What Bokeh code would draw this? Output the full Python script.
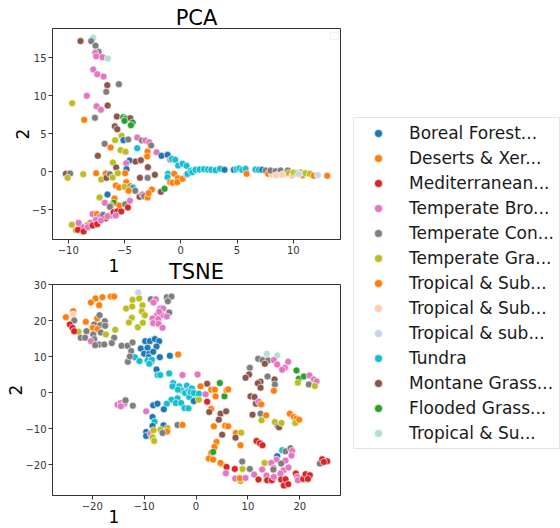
from bokeh.plotting import figure
from bokeh.layouts import row, column
from bokeh.models import (ColumnDataSource, Range1d, FixedTicker, CustomJSTickFormatter,
                          Legend, LegendItem, BoxAnnotation, Title)
from bokeh.core.properties import value
from bokeh.embed import file_html
from bokeh.resources import INLINE

# ---------------- data ----------------
categories = ["Boreal Forest...", "Deserts & Xer...", "Mediterranean...", "Temperate Bro...",
              "Temperate Con...", "Temperate Gra...", "Tropical & Sub...", "Tropical & Sub...",
              "Tropical & sub...", "Tundra", "Montane Grass...", "Flooded Grass...", "Tropical & Su..."]
palette = ["#1f77b4", "#ff7f0e", "#d62728", "#e377c2", "#7f7f7f", "#bcbd22", "#ff7f0e",
           "#ffcdb2", "#c8d4ea", "#17becf", "#8c564b", "#2ca02c", "#b2e2cd"]

pca_x = [-7.78, -8.91, -7.96, -7.57, -7.31, -7.60, -7.51, -6.95, -6.48, -7.78,
         -7.42, -6.86, -6.53, -5.50, -6.62, -8.35, -9.65, -7.48, -6.50, -7.10,
         -8.58, -7.63, -5.68, -5.11, -4.90, -4.49, -5.00, -4.28, -4.43, -5.86,
         -5.64, -5.83, -5.26, -5.09, -4.67, -3.87, -3.45, -3.16, -2.80, -2.63,
         -6.77, -6.24, -5.35, -4.91, -3.87, -2.95, -2.98, -7.37, -2.15, -1.71,
         -1.17, -0.94, -0.79, -0.49, -0.23, 0.16, 0.52, -4.55, -4.02, -3.55,
         -4.85, -6.03, -2.92, -5.74, -4.82, -10.21, -9.83, -10.06, -8.67, -7.52,
         -6.66, -7.07, -6.60, -6.30, -6.06, -4.94, -5.59, -3.63, -2.95, -2.30,
         -1.14, -1.17, -0.58, -0.26, -0.94, -0.73, -0.32, 0.16, 0.52, 0.60,
         0.90, 1.26, 1.67, -4.85, -5.77, -5.47, -5.00, -4.49, -4.26, -4.05,
         -4.64, -6.51, -7.22, -6.75, -5.89, -5.95, -6.21, -6.30, -5.47, -4.94,
         -4.52, -4.70, -3.66, -3.40, -3.25, -2.95, -2.57, -2.86, -1.77, -1.44,
         -7.84, -7.46, -7.19, -6.90, -6.66, -6.18, -5.97, -5.65, -5.29, -5.77,
         -7.54, -8.05, -8.31, -8.73, -9.08, -9.68, -9.32, -9.14, -8.64, -8.26,
         -7.84, -7.43, -7.10, -6.51, 1.02, 1.31, 1.67, 2.06, 2.41, 2.71,
         3.09, 3.48, 3.89, 4.72, 4.96, 5.20, 5.46, 5.76, 5.85, 6.65,
         6.94, 7.24, 7.54, 7.77, 8.13, 7.98, 8.43, 8.72, 8.87, 8.49,
         9.17, 9.52, 9.61, 9.91, 10.06, 10.35, 10.65, 10.83, 11.09, 11.48,
         11.83, 12.19, 13.02, 10.50, 9.00]
pca_y = [17.63, 17.20, 17.20, 16.60, 15.80, 15.66, 15.20, 15.08, 14.90, 13.46,
         12.84, 12.54, 11.40, 11.53, 10.53, 10.00, 9.03, 8.63, 8.72, 8.16,
         6.84, 7.10, 7.28, 7.18, 7.01, 7.05, 6.71, 6.49, 6.13, 6.00,
         5.60, 4.16, 4.73, 4.16, 4.25, 4.51, 4.12, 4.12, 3.90, 3.46,
         3.68, 3.20, 2.85, 2.63, 3.11, 2.67, 2.01, 2.10, 2.58, 2.10,
         2.23, 1.57, 1.71, 1.57, 0.83, 1.05, 0.78, 1.49, 1.35, 1.53,
         1.13, 1.22, 0.61, 0.57, 0.35, -0.27, -0.22, -0.79, -0.31, -0.18,
         -0.22, -1.01, -0.79, -0.31, -0.75, -0.18, -0.18, -0.79, -0.79, -0.40,
         -0.27, -0.71, -0.27, -0.84, -1.36, -1.45, -1.36, -0.93, -0.40, -0.27,
         0.17, 0.21, 0.35, -1.36, -1.80, -2.07, -1.98, -1.89, -2.07, -2.50,
         -2.50, -2.99, -3.38, -4.08, -3.51, -4.08, -4.43, -4.61, -4.43, -4.26,
         -3.82, -4.70, -3.29, -2.99, -3.21, -3.38, -2.33, -2.81, -2.64, -2.24,
         -5.57, -5.57, -5.92, -5.66, -6.10, -5.75, -5.31, -5.22, -5.22, -5.75,
         -6.32, -6.72, -7.07, -7.29, -6.72, -6.98, -7.68, -7.64, -7.86, -7.29,
         -7.07, -6.89, -6.41, -5.84, -0.05, 0.26, 0.30, 0.35, 0.30, 0.26,
         0.21, 0.39, 0.26, 0.26, 0.35, 0.43, 0.26, 0.39, -0.27, 0.30,
         0.26, 0.26, 0.17, -0.27, -0.36, 0.17, 0.08, -0.36, 0.17, -0.44,
         -0.27, 0.17, -0.18, -0.53, -0.09, -0.18, -0.09, -0.44, -0.18, -0.27,
         -0.53, -0.44, -0.53, -0.30, -0.40]
pca_c = [12, 10, 4, 4, 4, 3, 3, 3, 12, 3,
         3, 3, 10, 4, 4, 3, 5, 3, 10, 3,
         1, 4, 10, 11, 11, 10, 11, 11, 11, 10,
         10, 5, 5, 0, 4, 3, 4, 3, 3, 4,
         4, 1, 5, 5, 9, 1, 6, 10, 3, 0,
         0, 3, 9, 9, 9, 9, 9, 0, 10, 10,
         3, 5, 10, 10, 0, 10, 4, 5, 5, 1,
         6, 5, 10, 4, 5, 1, 5, 10, 4, 10,
         9, 9, 1, 1, 1, 6, 1, 1, 3, 9,
         9, 9, 9, 1, 1, 6, 5, 1, 9, 4,
         1, 0, 5, 3, 1, 11, 1, 4, 6, 4,
         3, 2, 10, 3, 4, 1, 1, 1, 10, 11,
         3, 1, 3, 4, 2, 3, 2, 2, 2, 3,
         3, 3, 1, 3, 3, 5, 5, 2, 2, 3,
         2, 2, 3, 3, 9, 9, 9, 9, 9, 9,
         9, 9, 0, 0, 9, 9, 9, 9, 1, 9,
         9, 0, 4, 1, 7, 4, 4, 4, 4, 7,
         5, 4, 5, 7, 5, 5, 5, 1, 5, 5,
         6, 8, 1, 8, 7]

tsne_x = [-11.14, -12.23, -10.95, -13.46, -12.30, -10.31, -10.44, -9.86, -12.36, -12.94,
          -11.21, -10.24, -8.70, -7.74, -5.62, -4.72, -5.43, -8.19, -6.90, -6.33,
          -5.17, -7.55, -6.58, -5.62, -8.38, -7.29, -8.25, -7.23, -6.45, -7.10,
          -19.36, -18.02, -16.41, -15.77, -20.26, -18.66, -23.67, -23.67, -25.08, -23.47,
          -21.23, -19.04, -18.59, -17.57, -19.62, -18.47, -19.88, -18.98, -17.50, -15.57,
          -22.64, -21.10, -19.81, -18.34, -17.37, -15.77, -22.19, -21.35, -19.62, -20.26,
          -18.66, -19.43, -17.69, -16.22, -24.31, -23.80, -23.47, -14.35, -13.20, -12.23,
          -9.79, -8.90, -7.93, -7.10, -10.63, -9.34, -7.61, -9.99, -9.02, -8.25,
          -6.97, -9.15, -8.64, -7.61, -5.04, -3.44, -11.78, -10.89, -9.34, -8.51,
          -9.02, -12.49, -13.13, -12.75, -7.40, -6.90, -5.17, -2.60, 0.30, -4.40,
          -4.53, -3.24, -1.77, -2.86, -2.09, -1.32, -0.80, -0.16, -1.32, -0.48,
          -4.72, -3.56, -5.62, -3.88, -2.86, -2.22, -1.45, -8.25, -7.42, -6.20,
          -15.12, -14.48, -13.78, -14.48, -13.58, -12.17, -9.60, -8.38, -7.99, -8.38,
          -6.26, -3.56, -2.60, -6.84, -5.49, -5.56, -6.45, -9.60, -9.60, -8.77,
          -8.19, -8.38, -8.06, -3.50, -1.00, 0.30, 13.65, 15.64, 11.98, 12.81,
          13.90, 13.26, 14.99, 15.64, 17.76, 17.12, 16.60, 10.37, 10.24, 9.54,
          13.78, 19.36, 19.81, 20.78, 21.87, 22.70, 23.22, 19.62, 21.74, 22.90,
          12.43, 11.91, 15.13, 15.19, 2.15, 4.59, 0.87, 12.43, 15.00, -0.42,
          0.55, 1.83, -0.42, 0.55, 2.92, 3.63, 3.76, 2.15, 5.49, 5.88,
          6.20, 2.92, 2.54, 4.72, 5.81, 4.40, 3.44, 5.62, 6.20, 5.04,
          7.67, 8.70, 7.61, 3.95, 3.56, 2.92, 3.31, 2.47, 3.31, 8.57,
          4.98, 4.72, 10.50, 11.27, 11.53, 12.11, 12.56, 10.89, 12.43, 13.52,
          12.62, 15.19, 15.77, 16.02, 16.47, 18.08, 18.85, 19.36, 19.11, 19.88,
          11.66, 12.30, 12.81, 16.60, 17.24, 18.21, 18.53, 18.40, 15.64, 15.51,
          17.24, 16.41, 13.20, 8.90, 14.48, 14.99, 14.90, 16.86, 17.82, 16.28,
          5.88, 7.48, 8.96, 10.37, 12.75, 5.75, 7.55, 8.57, 8.45, 9.54,
          11.21, 12.04, 13.58, 13.71, 14.61, 14.99, 16.41, 17.24, 16.92, 17.76,
          19.23, 19.49, 19.62, 20.65, 21.10, 21.93, 21.55, 23.86, 24.31, 25.27,
          24.63]
tsne_y = [27.86, 25.83, 26.20, 23.43, 23.98, 24.35, 22.69, 21.58, 20.84, 19.55,
          18.25, 19.45, 26.02, 26.02, 26.57, 26.76, 25.46, 25.09, 23.43, 23.43,
          22.32, 21.58, 21.58, 21.21, 20.66, 20.47, 19.36, 19.18, 18.07, 22.50,
          26.20, 26.57, 26.76, 26.76, 25.09, 24.35, 22.69, 21.77, 21.03, 20.10,
          19.73, 20.66, 21.58, 19.92, 18.99, 18.81, 18.07, 17.70, 18.62, 17.51,
          16.96, 17.14, 16.22, 16.77, 16.22, 15.30, 15.30, 15.30, 14.93, 14.37,
          13.45, 13.26, 13.45, 13.82, 18.99, 18.07, 17.14, 13.08, 13.08, 14.00,
          14.37, 14.37, 14.93, 14.37, 12.34, 12.52, 12.89, 10.86, 10.86, 11.41,
          9.93, 9.93, 8.64, 6.51, 10.30, 10.67, 9.93, 8.83, 9.01, 9.20,
          8.09, 11.60, 8.64, 10.10, 4.94, 4.94, 5.41, 4.94, 5.13, 2.73,
          1.81, 1.81, 1.99, 0.70, -0.04, 0.70, 1.25, -0.23, -1.15, -2.35,
          -1.89, -1.52, -3.00, -2.81, -2.81, -4.20, -4.29, -3.46, -3.00, -4.57,
          -3.28, -2.81, -3.00, -3.74, -2.08, -3.55, -5.13, -6.70, -7.99, -9.19,
          -9.01, -8.91, -8.91, -10.21, -9.75, -10.76, -11.13, -10.86, -11.96, -11.32,
          -10.39, -12.33, -13.35, 0.90, 0.20, -0.90, 10.86, 10.40, 9.47, 9.10,
          9.01, 8.09, 9.10, 7.90, 8.64, 6.98, 6.42, 6.98, 5.13, 4.20,
          4.57, 6.24, 3.93, 4.57, 4.85, 3.74, 3.19, 2.82, 2.36, 1.90,
          3.10, 2.64, 3.74, 2.36, 2.54, 2.73, 1.81, 1.44, 0.60, -0.04,
          -0.23, -0.41, -2.26, -1.89, 0.88, 0.88, -0.97, -2.45, -0.97, 0.70,
          0.97, -4.48, -5.31, -5.77, -5.13, -7.44, -9.28, -9.10, -9.28, -11.60,
          -11.13, -11.04, -12.43, -13.63, -15.01, -16.68, -16.40, -18.25, -18.53, -14.55,
          -19.73, -19.45, -0.97, -1.15, -3.00, -2.45, -3.18, -6.05, -5.77, -6.24,
          -7.62, -8.08, -9.28, -9.56, -8.36, -5.77, -6.70, -7.16, -8.36, -7.44,
          -13.35, -13.99, -14.55, -15.94, -16.22, -15.38, -16.12, -17.42, -17.60, -18.53,
          -18.80, -19.64, -19.45, -19.08, -19.45, -20.84, -21.30, -21.49, -20.75, -22.41,
          -20.56, -21.11, -21.11, -21.11, -21.30, -22.32, -23.80, -24.44, -23.70, -23.61,
          -22.69, -24.07, -22.97, -24.26, -24.26, -23.33, -24.07, -23.98, -25.74, -25.37,
          -22.41, -23.33, -24.26, -23.89, -22.59, -22.87, -23.89, -19.64, -18.43, -18.99,
          -19.17]
tsne_c = [8, 5, 5, 5, 5, 5, 5, 5, 5, 5,
          5, 5, 4, 3, 4, 4, 4, 3, 3, 3,
          4, 3, 3, 3, 3, 3, 3, 3, 3, 3,
          1, 1, 1, 1, 1, 1, 1, 7, 1, 4,
          1, 6, 4, 4, 4, 4, 1, 6, 4, 5,
          5, 4, 4, 4, 5, 4, 4, 4, 4, 3,
          4, 4, 4, 4, 2, 2, 2, 4, 4, 4,
          0, 0, 0, 0, 0, 0, 0, 0, 0, 0,
          0, 0, 0, 0, 0, 1, 9, 9, 9, 9,
          9, 4, 4, 4, 9, 9, 9, 3, 3, 9,
          9, 9, 9, 9, 9, 9, 9, 9, 9, 0,
          9, 9, 9, 9, 9, 9, 9, 0, 0, 0,
          3, 3, 3, 3, 4, 4, 3, 0, 9, 0,
          0, 4, 1, 5, 5, 1, 4, 0, 0, 3,
          5, 5, 5, 9, 9, 9, 12, 12, 4, 4,
          4, 10, 3, 3, 3, 3, 3, 4, 10, 10,
          4, 11, 11, 11, 3, 3, 3, 5, 4, 5,
          10, 10, 10, 4, 10, 11, 1, 10, 1, 9,
          9, 3, 0, 5, 1, 6, 1, 2, 11, 1,
          6, 1, 10, 10, 10, 10, 1, 1, 6, 10,
          1, 5, 10, 1, 1, 6, 11, 1, 1, 1,
          5, 1, 10, 10, 10, 3, 1, 10, 4, 1,
          5, 5, 4, 10, 5, 1, 1, 1, 5, 1,
          2, 2, 2, 9, 4, 4, 3, 3, 0, 3,
          3, 4, 5, 4, 3, 3, 4, 3, 3, 3,
          2, 2, 5, 4, 3, 3, 3, 5, 1, 3,
          3, 2, 3, 2, 2, 3, 2, 2, 2, 2,
          2, 3, 3, 2, 2, 2, 2, 4, 2, 2,
          2]

pca_xticks = [-10, -5, 0, 5, 10]
pca_yticks = [-5, 0, 5, 10, 15]
tsne_xticks = [-20, -10, 0, 10, 20]
tsne_yticks = [-20, -10, 0, 10, 20, 30]
PCA_XR = (-11.40, 14.20)
PCA_YR = (-8.91, 18.86)
TSNE_XR = (-27.65, 27.84)
TSNE_YR = (-28.5, 30.1)

assert len(pca_x) == len(pca_y) == len(pca_c)
assert len(tsne_x) == len(tsne_y) == len(tsne_c)

# ---------------- styling ----------------
FONT = "DejaVu Sans"
AX_COLOR = "#333333"
FRAME_W, FRAME_H = 288, 211

minus_fmt = "return (tick < 0 ? '\\u2212' : '') + Math.abs(tick).toString();"


def make_panel(xs, ys, cs, xr, yr, xticks, yticks, title, height, top, bottom, x_offset,
               x_standoff, title_standoff):
    p = figure(width=52 + FRAME_W + 8, height=height, x_range=Range1d(*xr), y_range=Range1d(*yr),
               toolbar_location=None, output_backend="svg",
               min_border_left=52, min_border_right=8,
               min_border_top=top, min_border_bottom=bottom)
    p.grid.visible = False
    p.outline_line_color = AX_COLOR
    p.outline_line_width = 1
    p.background_fill_color = "white"
    p.border_fill_alpha = 0
    p.title.text = title
    p.title.align = "center"
    p.title.text_font = FONT
    p.title.text_font_size = "21px"
    p.title.text_font_style = "normal"
    p.title.text_color = "black"
    p.title.standoff = title_standoff
    for ax, ticks in ((p.xaxis[0], xticks), (p.yaxis[0], yticks)):
        ax.ticker = FixedTicker(ticks=ticks)
        ax.formatter = CustomJSTickFormatter(code=minus_fmt)
        ax.major_tick_out = 4
        ax.major_tick_in = 0
        ax.minor_tick_out = 0
        ax.minor_tick_in = 0
        ax.major_tick_line_color = AX_COLOR
        ax.axis_line_color = AX_COLOR
        ax.major_label_text_font = FONT
        ax.major_label_text_font_size = "10px"
        ax.major_label_text_color = "#333333"
        ax.major_label_standoff = 2
    p.yaxis[0].axis_label = "2"
    p.yaxis[0].axis_label_text_font = FONT
    p.yaxis[0].axis_label_text_font_size = "17px"
    p.yaxis[0].axis_label_text_font_style = "normal"
    p.yaxis[0].axis_label_text_color = "black"
    p.yaxis[0].axis_label_standoff = 0
    p.add_layout(Title(text="1", align="left", offset=x_offset, vertical_align="top",
                       standoff=x_standoff, text_font=FONT, text_font_size="17px",
                       text_font_style="normal", text_color="black"), "below")
    src = ColumnDataSource(dict(x=xs, y=ys, color=[palette[c] for c in cs]))
    p.scatter("x", "y", source=src, size=7, fill_color="color", fill_alpha=1.0,
              line_color="white", line_width=0.6)
    return p


p1 = make_panel(pca_x, pca_y, pca_c, PCA_XR, PCA_YR, pca_xticks, pca_yticks, "PCA",
                282, 28, 43, 56, 4, -2)
p1.border_fill_alpha = 1
p1.border_fill_color = "white"
p2 = make_panel(tsne_x, tsne_y, tsne_c, TSNE_XR, TSNE_YR, tsne_xticks, tsne_yticks, "TSNE",
                272, 28, 33, 56, -5, 2)
p2.margin = (-26, 0, 0, 0)

# empty legend box of the PCA panel
px = lambda rng, v: rng[0] + v / FRAME_W * (rng[1] - rng[0])
py = lambda rng, v: rng[1] - v / FRAME_H * (rng[1] - rng[0])
p1.add_layout(BoxAnnotation(left=px(PCA_XR, 278), right=px(PCA_XR, 286),
                            top=py(PCA_YR, 4), bottom=py(PCA_YR, 11),
                            fill_color="white", fill_alpha=0.8,
                            line_color="#d0d0d0", line_width=1))

# legend panel
p3 = figure(width=560 - (52 + FRAME_W + 8), height=528, x_range=Range1d(0, 1), y_range=Range1d(0, 1),
            x_axis_type=None, y_axis_type=None, toolbar_location=None,
            output_backend="svg", min_border=0)
p3.outline_line_color = None
p3.grid.visible = False
rends = [p3.scatter(x=[-5], y=[-5], size=7, fill_color=col, line_color="white", line_width=0.6)
         for col in palette]
legend = Legend(items=[LegendItem(label=value(lab), renderers=[r]) for lab, r in zip(categories, rends)],
                location=(5, 79), padding=5, spacing=5, margin=0,
                glyph_width=38, glyph_height=20, label_height=20, label_standoff=12,
                label_text_font=FONT, label_text_font_size="17px", label_text_color="#1a1a1a",
                border_line_color="#cccccc", border_line_width=1,
                background_fill_color="white", background_fill_alpha=0.8)
p3.add_layout(legend)

layout = row(column(p1, p2), p3)
open("out.html", "w").write(file_html(layout, INLINE))
